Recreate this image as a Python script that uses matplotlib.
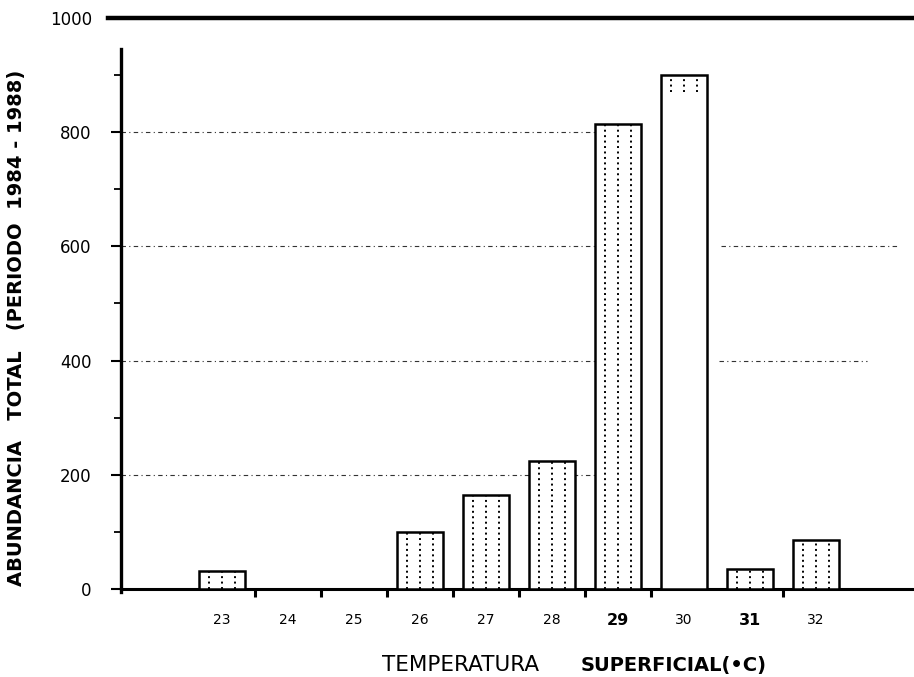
import matplotlib.pyplot as plt

# data
temps = [23, 24, 25, 26, 27, 28, 29, 30, 31, 32]
abundance = [32, 0, 0, 100, 165, 225, 815, 900, 35, 85]
bold_labels = [29, 31]

y_major = [0, 200, 400, 600, 800, 1000]
y_minor = [100, 300, 500, 700, 900]
x_sep_ticks = [23.5, 24.5, 25.5, 26.5, 27.5, 28.5, 29.5, 31.5]

# broken dash-dot guide lines (level, x start, x end)
guides = [(200, 21.47, 29.0), (400, 21.47, 29.0), (600, 21.47, 29.0), (800, 21.47, 29.0),
          (400, 30.53, 32.78), (600, 30.57, 33.27)]

fig = plt.figure(figsize=(9.14, 6.77), dpi=100)
ax = fig.add_axes([121/914, 88/677, 793/914, 571/677])
ax.set_xlim(21.47, 33.49)
ax.set_ylim(0, 1000)

for lvl, x0, x1 in guides:
    ax.plot([x0, x1], [lvl, lvl], color='#333333', lw=0.8,
            linestyle=(0, (4, 3, 1, 3)), zorder=1)

bw = 0.7
ax.bar(temps, abundance, width=bw, facecolor='white', edgecolor='black',
       linewidth=1.8, zorder=3)

# dotted vertical fill inside the bars
for t, v in zip(temps, abundance):
    if v <= 0:
        continue
    y_low = v - 30 if t == 30 else 0
    for off in (-0.2, 0.0, 0.2):
        ax.plot([t + off, t + off], [y_low, v], color='black', lw=1.4,
                linestyle=(0, (1, 1.8)), zorder=4)

# thick line at 1000
ax.plot([21.27, 33.49], [1000, 1000], color='black', lw=3.2,
        clip_on=False, zorder=5)

for s in ['top', 'right']:
    ax.spines[s].set_visible(False)
ax.spines['left'].set_linewidth(2.4)
ax.spines['left'].set_bounds(-6, 945)
ax.spines['bottom'].set_linewidth(2.2)

ax.set_yticks(y_major)
ax.set_yticks(y_minor, minor=True)
ax.set_yticklabels([str(v) for v in y_major], fontsize=12)
ax.tick_params(axis='y', which='major', length=7, width=1.5, pad=14)
ax.tick_params(axis='y', which='minor', length=5, width=1.3)

ax.set_xticks(temps)
ax.set_xticks(x_sep_ticks, minor=True)
ax.set_xticklabels([str(t) for t in temps], fontsize=10)
ax.tick_params(axis='x', which='major', length=0, pad=17)
ax.tick_params(axis='x', which='minor', length=6, width=2.2, direction='out')
for lab, t in zip(ax.get_xticklabels(), temps):
    if t in bold_labels:
        lab.set_fontweight('bold')
        lab.set_fontsize(11.5)

fig.text(17/914, 1 - 328/677, 'ABUNDANCIA   TOTAL   (PERIODO  1984 - 1988)',
         rotation=90, ha='center', va='center', fontsize=14, fontweight='bold')
fig.text(461/914, 1 - 665/677, 'TEMPERATURA', ha='center', va='center', fontsize=15.5)
fig.text(581/914, 1 - 665/677, 'SUPERFICIAL(•C)', ha='left', va='center',
         fontsize=14, fontweight='bold')

fig.savefig('out.png', dpi=100)
